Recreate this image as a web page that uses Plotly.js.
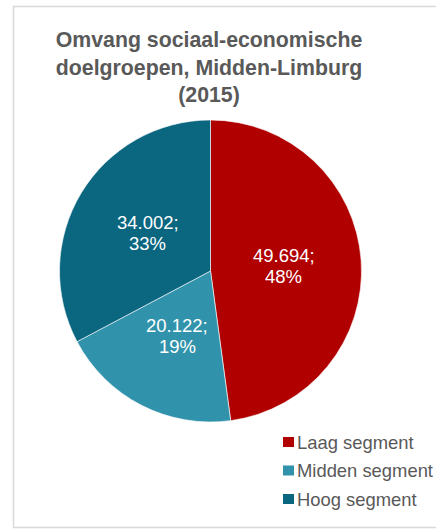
<!DOCTYPE html>
<html>
<head>
<meta charset="utf-8">
<script src="https://cdn.plot.ly/plotly-3.0.1.min.js"></script>
<style>html,body{margin:0;padding:0;background:#fff}#chart{width:436px;height:529px}</style>
</head>
<body>
<div id="chart"></div>
<script>
const categories = ["Laag segment", "Midden segment", "Hoog segment"];
const values = [49694, 20122, 34002];
const colors = ["#B00000", "#3193AB", "#0B6680"];
const titleText = "Omvang sociaal-economische<br>doelgroepen, Midden-Limburg<br>(2015)";

const W = 436, H = 529;
const font = "Arial, 'Liberation Sans', sans-serif";

// pie placement (pixels)
const pieL = 58, pieR = 363, pieT = 120, pieB = 422;
const cx = (pieL + pieR) / 2, cy = (pieT + pieB) / 2;
const R = Math.min(pieR - pieL, pieB - pieT) / 2;

const trace = {
  type: "pie",
  labels: categories,
  values: values,
  sort: false,
  direction: "clockwise",
  rotation: 0,
  marker: {colors: colors, line: {color: "#ffffff", width: 0.6}},
  textinfo: "none",
  hoverinfo: "none",
  showlegend: false,
  domain: {x: [pieL/W, pieR/W], y: [1 - pieB/H, 1 - pieT/H]}
};

const fmtThousands = v => String(Math.round(v)).replace(/\B(?=(\d{3})+(?!\d))/g, ".");
const total = values.reduce((a, b) => a + b, 0);

const annotations = [];
// data labels at slice bisector, ~0.49 R (Excel style)
let acc = 0;
values.forEach((v, i) => {
  const mid = (acc + v / 2) / total * 2 * Math.PI; // clockwise from 12 o'clock
  acc += v;
  const lx = cx + 0.485 * R * Math.sin(mid);
  const ly = cy - 0.485 * R * Math.cos(mid);
  const lines = [fmtThousands(v) + ";", Math.round(v / total * 100) + "%"];
  lines.forEach((t, j) => {
    annotations.push({
      xref: "paper", yref: "paper", x: lx / W, y: 1 - (ly + (j - 0.5) * 20.5) / H,
      xanchor: "center", yanchor: "middle", showarrow: false,
      text: t, font: {family: font, size: 18.5, color: "#ffffff"}
    });
  });
});

// manual legend built from categories/colors
const legX0 = 283, legSq = 11, legY0 = 442, legStep = 28.5;
const shapes = [{
  type: "rect", xref: "paper", yref: "paper",
  x0: 13.5/W, x1: 445/W, y0: 1 - 527.5/H, y1: 1 - 6.5/H,
  line: {color: "#D9D9D9", width: 1.5}, fillcolor: "rgba(0,0,0,0)"
}];
categories.forEach((c, i) => {
  const yc = legY0 + i * legStep;
  shapes.push({
    type: "rect", xref: "paper", yref: "paper",
    x0: legX0/W, x1: (legX0 + legSq)/W,
    y0: 1 - (yc + 5)/H, y1: 1 - (yc - 5)/H,
    line: {width: 0}, fillcolor: colors[i]
  });
  annotations.push({
    xref: "paper", yref: "paper", x: 295/W, y: 1 - yc/H,
    xanchor: "left", yanchor: "middle", showarrow: false,
    text: c, font: {family: font, size: 18.4, color: "#595959"}
  });
});

const layout = {
  width: W, height: H,
  margin: {l: 0, r: 0, t: 0, b: 0},
  paper_bgcolor: "#ffffff",
  showlegend: false,
  title: {
    text: "<b>" + titleText.split("<br>").join("</b><br><b>") + "</b>",
    x: 209/W, xanchor: "center", xref: "paper",
    y: 1 - 47/H, yanchor: "top", yref: "container",
    font: {family: font, size: 21.3, color: "#595959"}
  },
  shapes: shapes,
  annotations: annotations
};

Plotly.newPlot("chart", [trace], layout, {displayModeBar: false, staticPlot: true});
</script>
</body>
</html>
